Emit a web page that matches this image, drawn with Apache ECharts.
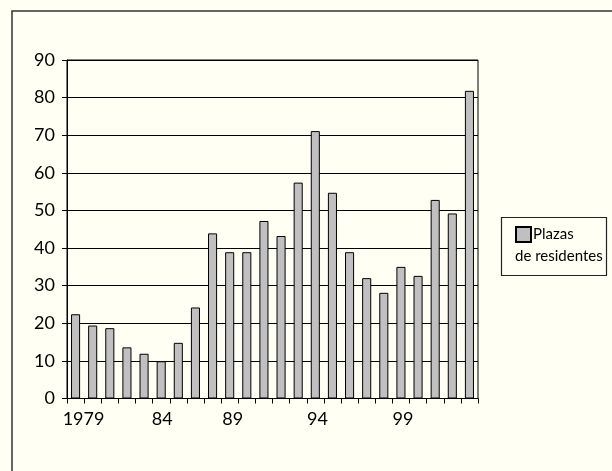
<!DOCTYPE html>
<html>
<head>
<meta charset="utf-8">
<script src="https://cdn.jsdelivr.net/npm/echarts@6/dist/echarts.min.js"></script>
<style>
  html, body { margin: 0; padding: 0; background: #fffff4; }
  #chart { width: 612px; height: 471px; }
</style>
</head>
<body>
<div id="chart"></div>
<script>
const years = ['1979', '1980', '1981', '1982', '1983', '1984', '1985', '1986',
  '1987', '1988', '1989', '1990', '1991', '1992', '1993', '1994', '1995',
  '1996', '1997', '1998', '1999', '2000', '2001', '2002'];
const plazas = [22.4, 19.4, 18.7, 13.6, 11.9, 9.9, 14.8, 24.2, 43.9, 38.9,
  38.9, 47.2, 43.2, 57.4, 71.1, 54.7, 38.9, 32.0, 28.1, 35.0, 32.6, 52.8,
  49.2, 81.8];
const yTicks = [0, 90, 10];

const font = 'Lato, "Open Sans", sans-serif';

// the year labels sit a little off their bars in the original
const labelShift = { 0: 8, 5: 1, 10: -14, 15: -15, 20: -15 };
const rich = {};
Object.keys(labelShift).forEach((k) => {
  const s = labelShift[k];
  rich['l' + k] = {
    fontSize: 18,
    color: '#000',
    fontFamily: font,
    padding: s >= 0 ? [0, 0, 0, 2 * s] : [0, -2 * s, 0, 0],
  };
});

const chart = echarts.init(document.getElementById('chart'));
chart.setOption({
  backgroundColor: '#fffff4',
  animation: false,
  textStyle: { fontFamily: font },
  graphic: [
    {
      type: 'rect',
      shape: { x: 12, y: 11, width: 640, height: 500 },
      style: { fill: 'none', stroke: '#333', lineWidth: 1.5 },
      z: 0,
    },
    {
      type: 'rect',
      shape: { x: 501.5, y: 217.5, width: 105, height: 58 },
      style: { fill: 'none', stroke: '#222', lineWidth: 1.2 },
      z: 10,
    },
    {
      type: 'text',
      left: 515,
      top: 249,
      style: { text: 'de residentes', fontSize: 15, fontFamily: font, fill: '#000' },
      z: 10,
    },
  ],
  grid: {
    left: 67,
    right: 134,
    top: 60,
    bottom: 72.5,
    show: true,
    borderColor: '#000',
    borderWidth: 1,
    backgroundColor: 'transparent',
  },
  legend: {
    left: 515,
    top: 226,
    padding: 0,
    itemWidth: 15,
    itemHeight: 15,
    data: [{ name: 'Plazas de residentes', icon: 'rect' }],
    formatter: () => 'Plazas',
    textStyle: { fontSize: 15, color: '#000', fontFamily: font, padding: [0, 0, 0, -3] },
  },
  xAxis: {
    type: 'category',
    data: years,
    boundaryGap: true,
    axisLine: { lineStyle: { color: '#000', width: 1 } },
    axisTick: { show: true, interval: 0, length: 5, lineStyle: { color: '#000' } },
    axisLabel: {
      interval: 4,
      margin: 12,
      fontSize: 18,
      color: '#000',
      formatter: (v, i) => {
        const t = i === 0 ? v : v.slice(2);
        return rich['l' + i] ? '{l' + i + '|' + t + '}' : t;
      },
      rich: rich,
    },
    splitLine: { show: false },
  },
  yAxis: {
    type: 'value',
    min: yTicks[0],
    max: yTicks[1],
    interval: yTicks[2],
    axisLine: { show: true, lineStyle: { color: '#000', width: 1 } },
    axisTick: { show: true, length: 5, lineStyle: { color: '#000' } },
    axisLabel: { fontSize: 18, color: '#000', margin: 12 },
    splitLine: { show: true, lineStyle: { color: '#000', width: 1 } },
  },
  series: [
    {
      name: 'Plazas de residentes',
      type: 'bar',
      data: plazas,
      barWidth: '53%',
      itemStyle: { color: '#c0c0c0', borderColor: '#000', borderWidth: 1 },
    },
  ],
});
</script>
</body>
</html>
